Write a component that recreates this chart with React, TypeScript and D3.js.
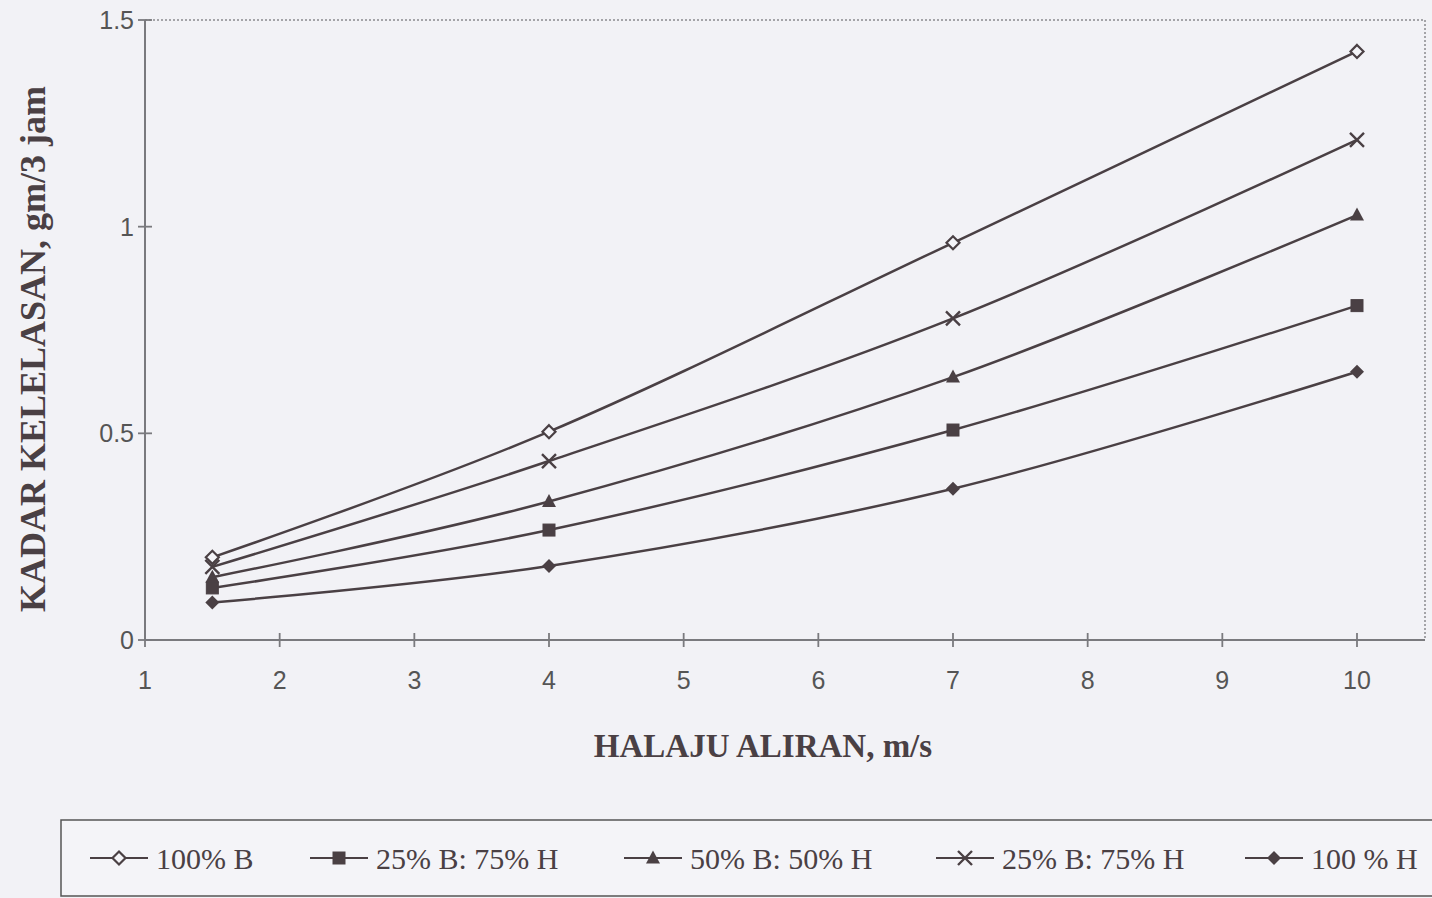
import * as d3 from 'd3';

// flow speed (m/s) where each series was measured
const xValues = [1.5, 4, 7, 10];
const xTicks = [1, 2, 3, 4, 5, 6, 7, 8, 9, 10];
const yTicks = [0, 0.5, 1, 1.5];

const seriesNames = ["100% B", "25% B: 75% H", "50% B: 50% H", "25% B: 75% H", "100 % H"];
const seriesMarkers = ["openDiamond", "square", "triangle", "cross", "diamond"];

// values (gm/3 jam)
const s100B = [0.2, 0.504, 0.961, 1.424];
const s25B75Hsq = [0.126, 0.266, 0.508, 0.809];
const s50B50H = [0.152, 0.335, 0.636, 1.028];
const s25B75Hx = [0.177, 0.433, 0.778, 1.21];
const s100H = [0.091, 0.179, 0.366, 0.649];

const seriesValues = [s100B, s25B75Hsq, s50B50H, s25B75Hx, s100H];

// legend item start positions
const legendX = [90, 310, 624, 936, 1245];

const ink = "#4a4044";
const axisGray = "#7a7a7e";

function Marker({ kind, x, y }: { kind: string; x: number; y: number }) {
  const r = 6.5;
  if (kind === "openDiamond") {
    return <path d={`M${x},${y - r} L${x + r},${y} L${x},${y + r} L${x - r},${y} Z`}
      fill="#f4f4f8" stroke={ink} strokeWidth={2.2} />;
  }
  if (kind === "square") {
    return <rect x={x - 6} y={y - 6} width={12} height={12} fill={ink} stroke={ink} strokeWidth={1} />;
  }
  if (kind === "triangle") {
    return <path d={`M${x},${y - 7.5} L${x + 7},${y + 5.5} L${x - 7},${y + 5.5} Z`} fill={ink} />;
  }
  if (kind === "cross") {
    return <path d={`M${x - 7},${y - 7} L${x + 7},${y + 7} M${x + 7},${y - 7} L${x - 7},${y + 7}`}
      stroke={ink} strokeWidth={2.4} fill="none" />;
  }
  return <path d={`M${x},${y - 7} L${x + 7},${y} L${x},${y + 7} L${x - 7},${y} Z`} fill={ink} />;
}

export default function App() {
  const width = 1432, height = 898;
  const x = d3.scaleLinear().domain([1, 10.505]).range([145, 1425]);
  const y = d3.scaleLinear().domain([0, 1.5]).range([640, 20]);

  const line = d3.line<number>()
    .x((d, i) => x(xValues[i]))
    .y(d => y(d))
    .curve(d3.curveCardinal.tension(0));

  const [x0, x1] = x.range();
  const [yb, yt] = y.range();

  return (
    <svg width={width} height={height} style={{ position: "absolute", left: 0, top: 0 }}>
      <rect width={width} height={height} fill="#f2f2f6" />

      {/* plot frame: dotted top and right */}
      <line x1={x0} x2={x1} y1={yt} y2={yt} stroke="#8a8a8e" strokeWidth={1.5} strokeDasharray="2,2" />
      <line x1={x1} x2={x1} y1={yt} y2={yb} stroke="#8a8a8e" strokeWidth={1.5} strokeDasharray="2,2" />

      {/* axes */}
      <line x1={x0} x2={x1} y1={yb} y2={yb} stroke={axisGray} strokeWidth={2} />
      <line x1={x0} x2={x0} y1={yt} y2={yb} stroke={axisGray} strokeWidth={2} />

      {xTicks.map(t => (
        <g key={"xt" + t}>
          <line x1={x(t)} x2={x(t)} y1={yb - 7} y2={yb + 7} stroke={axisGray} strokeWidth={1.8} />
          <text x={x(t)} y={yb + 49} textAnchor="middle" fontFamily="'Liberation Sans', Arial, sans-serif"
            fontSize={25} fill="#555">{t}</text>
        </g>
      ))}
      {yTicks.map(t => (
        <g key={"yt" + t}>
          <line x1={x0 - 7} x2={x0 + 7} y1={y(t)} y2={y(t)} stroke={axisGray} strokeWidth={1.8} />
          <text x={x0 - 11} y={y(t) + 9} textAnchor="end" fontFamily="'Liberation Sans', Arial, sans-serif"
            fontSize={25} fill="#555">{t}</text>
        </g>
      ))}

      {/* series */}
      {seriesValues.map((vals, si) => (
        <g key={"s" + si}>
          <path d={line(vals) || ""} fill="none" stroke={ink} strokeWidth={2.5} />
          {vals.map((v, i) => (
            <Marker key={i} kind={seriesMarkers[si]} x={x(xValues[i])} y={y(v)} />
          ))}
        </g>
      ))}

      {/* axis titles */}
      <text x={(x0 + x1) / 2 - 22} y={757} textAnchor="middle" fontFamily="'Liberation Serif', 'Times New Roman', serif"
        fontWeight="bold" fontSize={33} fill="#4a4044">HALAJU ALIRAN, m/s</text>
      <text transform={`translate(45, 349) rotate(-90)`} textAnchor="middle"
        fontFamily="'Liberation Serif', 'Times New Roman', serif" fontWeight="bold" fontSize={36}
        fill="#4a4044">KADAR KELELASAN, gm/3 jam</text>

      {/* legend */}
      <rect x={61} y={820} width={1400} height={76} fill="#f4f4f8" stroke="#555" strokeWidth={1.5} />
      {seriesNames.map((name, i) => {
        const lx = legendX[i];
        const cy = 858;
        return (
          <g key={"lg" + i}>
            <line x1={lx} x2={lx + 58} y1={cy} y2={cy} stroke={ink} strokeWidth={2.2} />
            <Marker kind={seriesMarkers[i]} x={lx + 29} y={cy} />
            <text x={lx + 66} y={869} fontFamily="'Liberation Serif', 'Times New Roman', serif" fontSize={30}
              fill="#4a4044">{name}</text>
          </g>
        );
      })}
    </svg>
  );
}
